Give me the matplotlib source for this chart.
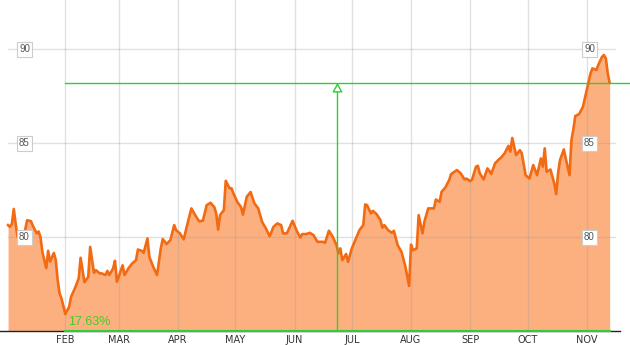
import matplotlib
matplotlib.use("Agg")
import matplotlib.pyplot as plt
import numpy as np
import pandas as pd

YEAR = 2013

# closing prices (month-day)
dates = [
    "01-02", "01-03", "01-04", "01-05", "01-06", "01-07", "01-09", "01-11", "01-12", "01-14",
    "01-15", "01-17", "01-18", "01-19", "01-20", "01-22", "01-23", "01-24", "01-26", "01-27",
    "01-28", "01-29", "01-30", "02-01",
    "02-03", "02-04", "02-06", "02-08", "02-09", "02-11", "02-13", "02-14", "02-16", "02-17",
    "02-19", "02-20", "02-22", "02-23", "02-24", "02-26", "02-27", "02-28",
    "03-03", "03-04", "03-06", "03-08", "03-10", "03-11", "03-13", "03-14", "03-16", "03-17",
    "03-19", "03-21", "03-23", "03-24", "03-26", "03-28", "03-30", "03-31",
    "04-02", "04-04", "04-06", "04-08", "04-10", "04-12", "04-14", "04-16", "04-18", "04-20",
    "04-21", "04-22", "04-23", "04-25", "04-26", "04-28", "04-29", "04-30",
    "05-02", "05-04", "05-05", "05-07", "05-09", "05-11", "05-13", "05-15", "05-17", "05-19",
    "05-21", "05-23", "05-25", "05-26", "05-28", "05-31",
    "06-02", "06-04", "06-05", "06-07", "06-09", "06-11", "06-13", "06-16", "06-17", "06-19",
    "06-21", "06-23", "06-24", "06-25", "06-26", "06-28", "06-29",
    "07-01", "07-03", "07-05", "07-07", "07-08", "07-09", "07-11", "07-12", "07-14", "07-16",
    "07-17", "07-18", "07-20", "07-22", "07-23", "07-25", "07-27", "07-29", "07-31",
    "08-01", "08-02", "08-04", "08-05", "08-07", "08-08", "08-10", "08-12", "08-13", "08-14",
    "08-16", "08-17", "08-19", "08-21", "08-22", "08-25", "08-27", "08-29", "08-30",
    "09-01", "09-02", "09-04", "09-05", "09-06", "09-08", "09-10", "09-11", "09-12", "09-14",
    "09-16", "09-17", "09-19", "09-21", "09-22", "09-23", "09-25", "09-27", "09-28", "09-30",
    "10-02", "10-04", "10-05", "10-06", "10-08", "10-09", "10-10", "10-11", "10-13", "10-15",
    "10-16", "10-17", "10-18", "10-20", "10-21", "10-23", "10-24", "10-25", "10-26", "10-28",
    "10-30", "10-31",
    "11-02", "11-03", "11-04", "11-06", "11-07", "11-09", "11-10", "11-11", "11-12", "11-13",
]
prices = [
    80.64, 80.55, 80.70, 81.50, 80.70, 80.00, 79.80, 80.40, 80.90, 80.85,
    80.60, 80.20, 80.30, 80.00, 79.20, 78.35, 79.27, 78.70, 79.16, 78.77,
    77.70, 77.00, 76.73, 75.90,
    76.29, 76.82, 77.27, 77.80, 78.90, 77.60, 77.88, 79.48, 78.10, 78.24,
    78.07, 78.07, 77.98, 78.20, 77.98, 78.33, 78.74, 77.62,
    78.50, 77.98, 78.33, 78.60, 78.77, 79.34, 79.27, 79.16, 79.93, 78.95,
    78.42, 77.98, 79.40, 79.90, 79.63, 79.84, 80.64, 80.37,
    80.20, 79.88, 80.73, 81.53, 81.17, 80.85, 80.87, 81.70, 81.83, 81.60,
    81.26, 80.40, 81.17, 81.44, 83.00, 82.60, 82.60, 82.33,
    81.88, 81.60, 81.20, 82.15, 82.40, 81.80, 81.53, 80.82, 80.46, 80.05,
    80.55, 80.73, 80.64, 80.20, 80.20, 80.87,
    80.37, 79.98, 80.16, 80.16, 80.23, 80.10, 79.75, 79.75, 79.70, 80.34,
    80.02, 79.57, 79.13, 79.40, 78.77, 79.10, 78.68,
    79.40, 79.88, 80.37, 80.64, 81.74, 81.70, 81.26, 81.40, 81.22, 80.90,
    80.50, 80.64, 80.37, 80.23, 80.34, 79.57, 79.22, 78.45, 77.40,
    79.60, 79.30, 79.40, 81.17, 80.20, 80.82, 81.53, 81.53, 81.53, 82.00,
    81.88, 82.41, 82.65, 83.04, 83.36, 83.57, 83.40, 83.07, 83.12,
    82.98, 83.07, 83.75, 83.80, 83.40, 83.07, 83.66, 83.53, 83.36, 83.93,
    84.14, 84.22, 84.46, 84.86, 84.55, 85.28, 84.37, 84.63, 84.46, 83.30,
    83.12, 83.84, 83.57, 83.30, 84.19, 83.75, 84.73, 83.48, 83.60, 82.86,
    82.29, 83.40, 84.10, 84.67, 84.19, 83.30, 85.17, 85.74, 86.45, 86.55,
    86.94, 87.39,
    88.27, 88.72, 88.99, 88.90, 89.16, 89.60, 89.70, 89.52, 88.72, 88.22,
]

month_labels = ["FEB", "MAR", "APR", "MAY", "JUN", "JUL", "AUG", "SEP", "OCT", "NOV"]
y_ticks = [80, 85, 90]
gain_text = "17.63%"

LINE = "#f26a12"
FILL = "#fdb07f"
GREEN = "#33cc33"


def main():
    x = pd.to_datetime([f"{YEAR}-{d}" for d in dates])
    y = np.array(prices)
    y_floor = 75.0

    fig = plt.figure(figsize=(6.3, 3.45), dpi=100)
    ax = fig.add_axes([0, 14 / 345, 620 / 630, 331 / 345])
    plt.rcParams["font.family"] = ["Liberation Sans", "DejaVu Sans"]

    ax.fill_between(x, y, y_floor, color=FILL, lw=0, zorder=1)
    ax.plot(x, y, color=LINE, lw=1.9, zorder=4, solid_joinstyle="round")

    x_right = pd.Timestamp(f"{YEAR}-11-18 10:00")
    ax.set_xlim(pd.Timestamp(f"{YEAR - 1}-12-28 19:00"), x_right)
    ax.set_ylim(y_floor, 92.63)

    # month grid
    month_starts = pd.date_range(f"{YEAR}-02-01", periods=len(month_labels), freq="MS")
    for m in month_starts:
        ax.axvline(m, color="#999999", alpha=0.3, lw=1, zorder=2)
    for t in y_ticks:
        ax.axhline(t, xmin=8 / 620, xmax=615 / 620, color="#999999", alpha=0.3, lw=1, zorder=2)

    ax.set_xticks(month_starts)
    ax.set_xticklabels(month_labels, fontsize=7, color="#333333")
    ax.tick_params(axis="x", length=0, pad=3)
    ax.set_yticks([])
    for s in ["top", "left", "right"]:
        ax.spines[s].set_visible(False)
    ax.spines["bottom"].set_color("#222222")
    ax.spines["bottom"].set_linewidth(1)

    box = dict(boxstyle="square,pad=0.25", fc="white", ec="#cccccc", lw=0.8)
    for t in y_ticks:
        for xf in (24.5 / 620, 589.5 / 620):
            ax.text(xf, t, str(t), transform=ax.get_yaxis_transform(), ha="center", va="center",
                    fontsize=7, color="#555555", bbox=box, zorder=6)

    # gain measurement from the low to the last close
    low_i = int(np.argmin(y))
    start, end = x[low_i], x[-1]
    mid = start + (end - start) / 2
    last = y[-1]
    ax.plot([start, end], [y_floor, y_floor], color=GREEN, lw=1.5, zorder=5, clip_on=False)
    ax.plot([start, x_right + pd.Timedelta(days=10)], [last, last], color=GREEN, lw=1,
            zorder=5, clip_on=False)
    ax.annotate("", xy=(mid, last), xytext=(mid, y_floor),
                arrowprops=dict(arrowstyle="-|>,head_length=0.55,head_width=0.3",
                                ec=GREEN, fc="white", lw=1, shrinkA=0, shrinkB=0),
                zorder=5)
    ax.annotate(gain_text, xy=(start, y_floor), xytext=(2, 2), textcoords="offset points",
                ha="left", va="bottom", fontsize=9, color="#44cc22", zorder=6)

    fig.savefig("out.png", dpi=100)
    plt.close(fig)


if __name__ == "__main__":
    main()
